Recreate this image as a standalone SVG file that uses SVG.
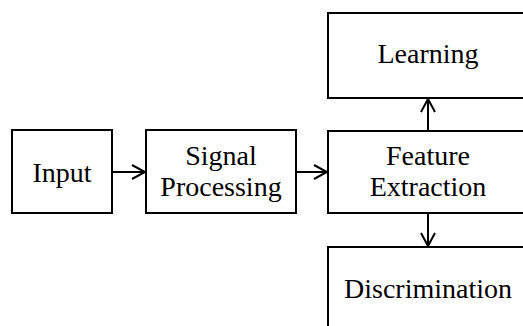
<svg xmlns="http://www.w3.org/2000/svg" width="523" height="326" viewBox="0 0 523 326">
<style>
.box{fill:#fff;stroke:#000;stroke-width:2}
.conn{stroke:#000;stroke-width:2;fill:none}
</style>
<defs>
<marker id="arr" markerUnits="userSpaceOnUse" markerWidth="16" markerHeight="18" refX="14" refY="8" orient="auto">
<path d="M1,1 L14,8 L1,15" fill="none" stroke="#000" stroke-width="2"/>
</marker>
</defs>
<rect width="523" height="326" fill="#fff"/>
<g font-family="'Liberation Serif', 'Times New Roman', 'DejaVu Serif', serif" font-size="28" text-anchor="middle" fill="#000">
<g id="input"><rect class="box" x="12" y="130" width="100" height="83"/><text x="62" y="182">Input</text></g>
<g id="signal"><rect class="box" x="146" y="130" width="150" height="83"/><text x="221" y="165">Signal</text><text x="221" y="196">Processing</text></g>
<g id="feature"><rect class="box" x="328" y="131" width="200" height="82"/><text x="428" y="165">Feature</text><text x="428" y="196">Extraction</text></g>
<g id="learning"><rect class="box" x="328" y="13" width="200" height="85"/><text x="428" y="63">Learning</text></g>
<g id="discrimination"><rect class="box" x="328" y="247" width="200" height="100"/><text x="428" y="298">Discrimination</text></g>
</g>
<g id="connectors">
<line class="conn" x1="112" y1="172" x2="145" y2="172" marker-end="url(#arr)"/>
<line class="conn" x1="296" y1="172" x2="327" y2="172" marker-end="url(#arr)"/>
<line class="conn" x1="428" y1="130" x2="428" y2="99" marker-end="url(#arr)"/>
<line class="conn" x1="428" y1="214" x2="428" y2="246" marker-end="url(#arr)"/>
</g>
</svg>
